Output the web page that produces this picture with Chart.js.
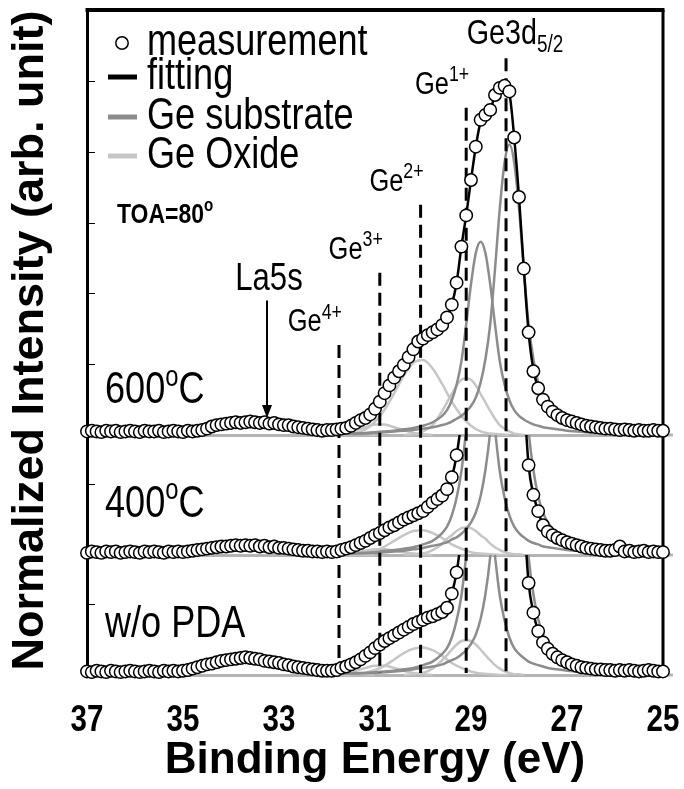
<!DOCTYPE html>
<html lang="en">
<head>
<meta charset="UTF-8">
<title>Ge3d XPS spectra</title>
<script src="https://cdn.jsdelivr.net/npm/chart.js@4.4.0/dist/chart.umd.min.js"></script>
<style>
  html, body { margin: 0; padding: 0; background: #fff; }
  #wrap { position: relative; width: 684px; height: 789px; }
</style>
</head>
<body>
<div id="wrap"><canvas id="xps" width="684" height="789"></canvas></div>
<script>
// ---- measured spectra, 0.1 eV steps ----
const energy = [
  37.0, 36.9, 36.8, 36.7, 36.6, 36.5, 36.4, 36.3, 36.2, 36.1,
  36.0, 35.9, 35.8, 35.7, 35.6, 35.5, 35.4, 35.3, 35.2, 35.1,
  35.0, 34.9, 34.8, 34.7, 34.6, 34.5, 34.4, 34.3, 34.2, 34.1,
  34.0, 33.9, 33.8, 33.7, 33.6, 33.5, 33.4, 33.3, 33.2, 33.1,
  33.0, 32.9, 32.8, 32.7, 32.6, 32.5, 32.4, 32.3, 32.2, 32.1,
  32.0, 31.9, 31.8, 31.7, 31.6, 31.5, 31.4, 31.3, 31.2, 31.1,
  31.0, 30.9, 30.8, 30.7, 30.6, 30.5, 30.4, 30.3, 30.2, 30.1,
  30.0, 29.9, 29.8, 29.7, 29.6, 29.5, 29.4, 29.3, 29.2, 29.1,
  29.0, 28.9, 28.8, 28.7, 28.6, 28.5, 28.4, 28.3, 28.2, 28.1,
  28.0, 27.9, 27.8, 27.7, 27.6, 27.5, 27.4, 27.3, 27.2, 27.1,
  27.0, 26.9, 26.8, 26.7, 26.6, 26.5, 26.4, 26.3, 26.2, 26.1,
  26.0, 25.9, 25.8, 25.7, 25.6, 25.5, 25.4, 25.3, 25.2, 25.1,
  25.0
];
const meas600 = [
  0.05, 0.06, 0.05, 0.04, 0.06, 0.05, 0.06, 0.04, 0.05, 0.06,
  0.05, 0.04, 0.06, 0.05, 0.05, 0.06, 0.04, 0.05, 0.06, 0.05,
  0.04, 0.06, 0.05, 0.06, 0.07, 0.09, 0.12, 0.14, 0.15, 0.16,
  0.17, 0.18, 0.17, 0.18, 0.19, 0.18, 0.17, 0.18, 0.16, 0.17,
  0.15, 0.14, 0.14, 0.12, 0.11, 0.10, 0.09, 0.08, 0.07, 0.06,
  0.07, 0.07, 0.08, 0.09, 0.10, 0.13, 0.17, 0.21, 0.24, 0.29,
  0.37, 0.47, 0.59, 0.70, 0.81, 0.90, 0.99, 1.10, 1.21, 1.32,
  1.36, 1.41, 1.45, 1.49, 1.55, 1.66, 1.84, 2.15, 2.66, 3.10,
  3.60, 4.07, 4.45, 4.52, 4.59, 4.80, 4.90, 4.93, 4.85, 4.20,
  3.36, 2.35, 1.45, 0.90, 0.66, 0.50, 0.40, 0.33, 0.28, 0.24,
  0.21, 0.19, 0.17, 0.15, 0.13, 0.12, 0.11, 0.10, 0.09, 0.09,
  0.08, 0.07, 0.08, 0.07, 0.06, 0.07, 0.06, 0.06, 0.07, 0.06,
  0.06
];
const meas400 = [
  0.03, 0.05, 0.04, 0.03, 0.05, 0.04, 0.05, 0.03, 0.04, 0.05,
  0.04, 0.03, 0.05, 0.04, 0.05, 0.04, 0.03, 0.05, 0.04, 0.05,
  0.04, 0.05, 0.06, 0.07, 0.08, 0.09, 0.10, 0.11, 0.12, 0.12,
  0.13, 0.14, 0.13, 0.14, 0.13, 0.14, 0.12, 0.13, 0.11, 0.12,
  0.10, 0.10, 0.09, 0.08, 0.07, 0.06, 0.06, 0.05, 0.05, 0.04,
  0.05, 0.04, 0.05, 0.07, 0.09, 0.11, 0.14, 0.17, 0.20, 0.24,
  0.28, 0.31, 0.35, 0.39, 0.42, 0.46, 0.50, 0.53, 0.56, 0.59,
  0.62, 0.68, 0.74, 0.79, 0.84, 0.93, 1.10, 1.41, 1.90, 2.60,
  3.40, 4.00, 4.40, 4.70, 4.90, 5.10, 5.30, 5.40, 5.20, 4.60,
  3.60, 2.30, 1.27, 0.85, 0.62, 0.42, 0.33, 0.28, 0.24, 0.21,
  0.18, 0.16, 0.14, 0.12, 0.10, 0.09, 0.08, 0.07, 0.06, 0.06,
  0.07, 0.12, 0.05, 0.06, 0.04, 0.05, 0.06, 0.04, 0.05, 0.04,
  0.04
];
const measNoPDA = [
  0.05, 0.04, 0.06, 0.05, 0.04, 0.06, 0.05, 0.04, 0.05, 0.06,
  0.05, 0.04, 0.05, 0.06, 0.05, 0.04, 0.06, 0.05, 0.06, 0.05,
  0.06, 0.07, 0.09, 0.11, 0.13, 0.15, 0.16, 0.18, 0.20, 0.21,
  0.22, 0.23, 0.24, 0.25, 0.24, 0.23, 0.22, 0.20, 0.19, 0.18,
  0.17, 0.15, 0.14, 0.12, 0.11, 0.10, 0.09, 0.08, 0.07, 0.06,
  0.06, 0.06, 0.07, 0.10, 0.12, 0.15, 0.18, 0.22, 0.27, 0.32,
  0.38, 0.43, 0.48, 0.52, 0.56, 0.60, 0.64, 0.68, 0.72, 0.75,
  0.78, 0.81, 0.83, 0.86, 0.89, 0.95, 1.15, 1.45, 1.95, 2.60,
  3.30, 3.90, 4.30, 4.60, 4.85, 5.05, 5.25, 5.35, 5.15, 4.50,
  3.50, 2.30, 1.30, 0.88, 0.62, 0.46, 0.37, 0.30, 0.25, 0.21,
  0.18, 0.15, 0.13, 0.11, 0.10, 0.09, 0.08, 0.08, 0.07, 0.07,
  0.06, 0.07, 0.06, 0.07, 0.06, 0.05, 0.06, 0.07, 0.06, 0.05,
  0.05
];

// ---- fitted envelope and Ge substrate doublet ----
const fitE = [
  32.4, 32.2, 32.0, 31.8, 31.6, 31.4, 31.2, 31.0, 30.8, 30.6,
  30.4, 30.2, 30.0, 29.8, 29.6, 29.5, 29.4, 29.3, 29.2, 29.1,
  29.0, 28.9, 28.8, 28.7, 28.6, 28.5, 28.4, 28.3, 28.2, 28.1,
  28.0, 27.9, 27.8, 27.7, 27.6, 27.5, 27.4, 27.2, 27.0, 26.8,
  26.6, 26.4
];
const fit600 = [0.09, 0.07, 0.07, 0.08, 0.10, 0.17, 0.24, 0.37, 0.59, 0.81, 0.99, 1.21, 1.36, 1.45, 1.55, 1.66, 1.84, 2.15, 2.66, 3.10, 3.60, 4.07, 4.42, 4.52, 4.60, 4.78, 4.88, 4.92, 4.82, 4.20, 3.36, 2.35, 1.45, 0.92, 0.66, 0.50, 0.40, 0.28, 0.21, 0.17, 0.13, 0.11];
const fit400 = [0.06, 0.05, 0.05, 0.05, 0.09, 0.14, 0.20, 0.28, 0.35, 0.42, 0.50, 0.56, 0.62, 0.74, 0.84, 0.93, 1.10, 1.41, 1.90, 2.60, 3.40, 4.00, 4.40, 4.70, 4.90, 5.10, 5.30, 5.40, 5.20, 4.60, 3.60, 2.30, 1.27, 0.85, 0.62, 0.42, 0.33, 0.24, 0.18, 0.14, 0.10, 0.08];
const fitNoPDA = [0.09, 0.07, 0.06, 0.07, 0.12, 0.18, 0.27, 0.38, 0.48, 0.56, 0.64, 0.72, 0.78, 0.83, 0.89, 0.95, 1.15, 1.45, 1.95, 2.60, 3.30, 3.90, 4.30, 4.60, 4.85, 5.05, 5.25, 5.35, 5.15, 4.50, 3.50, 2.30, 1.30, 0.88, 0.62, 0.46, 0.37, 0.25, 0.18, 0.13, 0.10, 0.08];

const sub52_600 = [0.01, 0.01, 0.01, 0.01, 0.02, 0.02, 0.02, 0.03, 0.04, 0.05, 0.06, 0.07, 0.09, 0.11, 0.14, 0.16, 0.19, 0.23, 0.27, 0.33, 0.41, 0.53, 0.74, 1.07, 1.56, 2.34, 3.20, 3.85, 4.10, 3.85, 3.20, 2.34, 1.56, 1.07, 0.74, 0.53, 0.41, 0.27, 0.19, 0.14, 0.11, 0.09];
const sub52_400 = [0.01, 0.01, 0.01, 0.01, 0.02, 0.02, 0.03, 0.03, 0.04, 0.05, 0.06, 0.08, 0.10, 0.13, 0.16, 0.18, 0.22, 0.25, 0.30, 0.37, 0.46, 0.60, 0.83, 1.20, 1.75, 2.62, 3.59, 4.32, 4.60, 4.32, 3.59, 2.62, 1.75, 1.20, 0.83, 0.60, 0.46, 0.30, 0.22, 0.16, 0.13, 0.10];
const sub52_NoPDA = [0.01, 0.01, 0.01, 0.01, 0.02, 0.02, 0.03, 0.03, 0.04, 0.05, 0.06, 0.08, 0.10, 0.12, 0.15, 0.18, 0.21, 0.24, 0.29, 0.35, 0.44, 0.57, 0.79, 1.14, 1.67, 2.51, 3.43, 4.14, 4.40, 4.14, 3.43, 2.51, 1.67, 1.14, 0.79, 0.57, 0.44, 0.29, 0.21, 0.15, 0.12, 0.10];
const sub32_600 = [0.01, 0.01, 0.01, 0.02, 0.02, 0.02, 0.03, 0.04, 0.05, 0.06, 0.08, 0.10, 0.13, 0.18, 0.27, 0.35, 0.49, 0.71, 1.04, 1.56, 2.13, 2.57, 2.73, 2.57, 2.13, 1.56, 1.04, 0.71, 0.49, 0.35, 0.27, 0.22, 0.18, 0.15, 0.13, 0.11, 0.10, 0.08, 0.06, 0.05, 0.04, 0.03];
const sub32_400 = [0.01, 0.01, 0.02, 0.02, 0.02, 0.03, 0.03, 0.04, 0.06, 0.07, 0.09, 0.11, 0.15, 0.20, 0.31, 0.40, 0.56, 0.81, 1.18, 1.77, 2.42, 2.91, 3.10, 2.91, 2.42, 1.77, 1.18, 0.81, 0.56, 0.40, 0.31, 0.25, 0.20, 0.17, 0.15, 0.12, 0.11, 0.09, 0.07, 0.06, 0.04, 0.03];
const sub32_NoPDA = [0.01, 0.01, 0.01, 0.02, 0.02, 0.03, 0.03, 0.04, 0.05, 0.06, 0.08, 0.10, 0.14, 0.19, 0.30, 0.38, 0.53, 0.77, 1.12, 1.68, 2.30, 2.77, 2.95, 2.77, 2.30, 1.68, 1.12, 0.77, 0.53, 0.38, 0.30, 0.24, 0.19, 0.16, 0.14, 0.12, 0.10, 0.08, 0.06, 0.05, 0.04, 0.03];

// ---- Ge oxide components (Ge1+ .. Ge4+) ----
const ox1E = [30.4, 30.2, 30.0, 29.8, 29.6, 29.5, 29.4, 29.3, 29.2, 29.1, 29.0, 28.9, 28.8, 28.7, 28.6, 28.5, 28.4, 28.3, 28.2, 28.1, 28.0, 27.9];
const ox1_600 = [0, 0.01, 0.05, 0.14, 0.34, 0.46, 0.58, 0.70, 0.78, 0.80, 0.78, 0.70, 0.58, 0.46, 0.34, 0.23, 0.14, 0.09, 0.05, 0.02, 0.01, 0];
const ox1_400 = [0, 0.01, 0.02, 0.07, 0.16, 0.23, 0.28, 0.34, 0.38, 0.39, 0.38, 0.34, 0.28, 0.23, 0.16, 0.11, 0.07, 0.04, 0.02, 0.01, 0.01, 0];
const ox1_NoPDA = [0, 0.01, 0.03, 0.09, 0.21, 0.28, 0.36, 0.43, 0.48, 0.49, 0.48, 0.43, 0.36, 0.28, 0.21, 0.14, 0.09, 0.05, 0.03, 0.01, 0.01, 0];

const ox2E = [32.0, 31.8, 31.6, 31.4, 31.2, 31.0, 30.8, 30.6, 30.4, 30.2, 30.0, 29.8, 29.6, 29.4, 29.2, 29.0, 28.8, 28.6, 28.4, 28.2];
const ox2_600 = [0, 0, 0.01, 0.03, 0.08, 0.19, 0.36, 0.59, 0.84, 1.02, 1.06, 0.94, 0.72, 0.47, 0.27, 0.13, 0.05, 0.02, 0.01, 0];
const ox2_400 = [0, 0, 0, 0.01, 0.03, 0.06, 0.12, 0.20, 0.28, 0.34, 0.35, 0.31, 0.24, 0.15, 0.09, 0.04, 0.02, 0.01, 0, 0];
const ox2_NoPDA = [0, 0, 0, 0.01, 0.03, 0.07, 0.13, 0.22, 0.31, 0.37, 0.39, 0.35, 0.27, 0.17, 0.10, 0.05, 0.02, 0.01, 0, 0];

const ox3E = [32.0, 31.8, 31.6, 31.4, 31.2, 31.0, 30.8, 30.6, 30.4, 30.2, 30.0, 29.8];
const ox3_600 = [0, 0.01, 0.03, 0.07, 0.11, 0.15, 0.15, 0.11, 0.07, 0.03, 0.01, 0];
const ox3_400 = [0, 0.01, 0.02, 0.04, 0.06, 0.08, 0.08, 0.06, 0.04, 0.02, 0.01, 0];
const ox3_NoPDA = [0, 0.01, 0.03, 0.06, 0.10, 0.13, 0.13, 0.10, 0.06, 0.03, 0.01, 0];

const ox4E = [32.4, 32.2, 32.0, 31.8, 31.6, 31.4, 31.2, 31.0];
const ox4_600 = [0, 0.02, 0.04, 0.06, 0.05, 0.03, 0.01, 0];
const ox4_400 = [0, 0.01, 0.02, 0.03, 0.02, 0.01, 0, 0];
const ox4_NoPDA = [0, 0.02, 0.03, 0.05, 0.04, 0.02, 0.01, 0];

// ---- chemical-state markers (dashed lines), tops in 600 C panel units ----
const peakE = [31.75, 30.9, 30.05, 29.1, 28.27];
const peakTop = [1.27, 2.29, 3.25, 4.62, 5.32];
const peakSup = ['4+', '3+', '2+', '1+'];

const xTicks = [37, 35, 33, 31, 29, 27, 25];

const FONT = 'Arial, "Liberation Sans", Helvetica, sans-serif';
const NARROW = '"Liberation Sans Narrow", "Arial Narrow"';
const SUB_COLOR = '#8c8c8c';
const OX_COLOR = '#c6c6c6';

// narrow face if installed, otherwise squeeze the regular one
let narrowScale = null;
function narrowInfo(ctx) {
  if (narrowScale === null) {
    ctx.save();
    ctx.font = '40px ' + NARROW + ', monospace';
    const a = ctx.measureText('measurement').width;
    ctx.font = '40px monospace';
    const b = ctx.measureText('measurement').width;
    ctx.restore();
    narrowScale = Math.abs(a - b) > 0.5 ? 1 : 0.82;
  }
  return narrowScale;
}
function font(size, bold, narrow) {
  const fam = narrow && narrowScale === 1 ? NARROW + ', ' + FONT : FONT;
  return (bold ? 'bold ' : '') + size + 'px ' + fam;
}
function pts(xs, ys) { return xs.map((x, i) => ({ x: x, y: ys[i] })); }

// parts: [{t, v: 'sup'|'sub'}], y is the baseline
function drawRich(ctx, parts, x, y, size, opt) {
  opt = opt || {};
  const sx = opt.narrow ? narrowInfo(ctx) : 1;
  const small = opt.small || 0.66;
  let w = 0;
  parts.forEach(p => {
    ctx.font = font(p.v ? size * small : size, opt.bold, opt.narrow);
    w += ctx.measureText(p.t).width;
  });
  const x0 = opt.align === 'right' ? x - w * sx : opt.align === 'center' ? x - w * sx / 2 : x;
  ctx.save();
  ctx.translate(x0, y);
  ctx.scale(sx, 1);
  ctx.textAlign = 'left';
  ctx.textBaseline = 'alphabetic';
  let cx = 0;
  parts.forEach(p => {
    const s = p.v ? size * small : size;
    const dy = p.v === 'sup' ? -size * 0.4 : p.v === 'sub' ? size * 0.22 : 0;
    ctx.font = font(s, opt.bold, opt.narrow);
    ctx.fillText(p.t, cx, dy);
    cx += ctx.measureText(p.t).width;
  });
  ctx.restore();
}

const panels = [
  { axis: 'y600', max: 6, weight: 425, meas: meas600, fit: fit600, sub: [sub52_600, sub32_600],
    ox: [[ox1E, ox1_600], [ox2E, ox2_600], [ox3E, ox3_600], [ox4E, ox4_600]] },
  { axis: 'y400', max: 1.695, weight: 120, meas: meas400, fit: fit400, sub: [sub52_400, sub32_400],
    ox: [[ox1E, ox1_400], [ox2E, ox2_400], [ox3E, ox3_400], [ox4E, ox4_400]] },
  { axis: 'yNoPDA', max: 1.695, weight: 120, meas: measNoPDA, fit: fitNoPDA, sub: [sub52_NoPDA, sub32_NoPDA],
    ox: [[ox1E, ox1_NoPDA], [ox2E, ox2_NoPDA], [ox3E, ox3_NoPDA], [ox4E, ox4_NoPDA]] }
];

const datasets = [];
panels.forEach(p => {
  datasets.push({ kind: 'meas', yAxisID: p.axis, data: pts(energy, p.meas), showLine: false,
    pointRadius: 6.2, pointBorderWidth: 1.5, pointBorderColor: '#000', pointBackgroundColor: '#fff',
    order: 0, clip: false });
  datasets.push({ kind: 'fit', yAxisID: p.axis, data: pts(fitE, p.fit), borderColor: '#000',
    borderWidth: 2.5, pointRadius: 0, cubicInterpolationMode: 'monotone', order: 1, clip: false });
  p.sub.forEach(v => datasets.push({ kind: 'sub', yAxisID: p.axis, data: pts(fitE, v),
    borderColor: SUB_COLOR, borderWidth: 2.5, pointRadius: 0, cubicInterpolationMode: 'monotone',
    order: 2, clip: false }));
  p.ox.forEach(([e, v]) => datasets.push({ kind: 'ox', yAxisID: p.axis, data: pts(e, v),
    borderColor: OX_COLOR, borderWidth: 2.5, pointRadius: 0, cubicInterpolationMode: 'monotone',
    order: 3, clip: false }));
});

function yAxis(p) {
  return {
    type: 'linear', position: 'left', stack: 'panels', stackWeight: p.weight,
    min: 0, max: p.max,
    ticks: { display: false, stepSize: 1 },
    grid: {
      drawTicks: false,
      color: c => (c.tick && c.tick.value === 0) ? '#b4b4b4' : 'rgba(0,0,0,0)',
      lineWidth: c => (c.tick && c.tick.value === 0) ? 3 : 1
    },
    border: { display: true, color: '#000', width: 3 },
    afterFit: s => { s.width = 0; }
  };
}

let dashesDone = false;

// each spectrum is clipped to its own panel; dashed markers go under the circles
const panelClip = {
  id: 'panelClip',
  beforeDatasetDraw(chart, args) {
    const ctx = chart.ctx;
    const a = chart.chartArea;
    const ds = chart.data.datasets[args.index];
    if (ds.kind === 'meas' && !dashesDone) {
      dashesDone = true;
      const xs = chart.scales.x, yt = chart.scales.y600;
      ctx.save();
      ctx.strokeStyle = '#000';
      ctx.lineWidth = 3;
      ctx.setLineDash([13, 7]);
      peakE.forEach((e, i) => {
        const x = xs.getPixelForValue(e);
        ctx.beginPath();
        ctx.moveTo(x, yt.getPixelForValue(peakTop[i]));
        ctx.lineTo(x, a.bottom - 2);
        ctx.stroke();
      });
      ctx.restore();
    }
    const ys = chart.scales[args.meta.yAxisID];
    ctx.save();
    ctx.beginPath();
    ctx.rect(a.left - 10, ys.top, a.right - a.left + 20, ys.bottom - ys.top + 8);
    ctx.clip();
  },
  afterDatasetDraw(chart) { chart.ctx.restore(); }
};

const frame = {
  id: 'frame',
  beforeDatasetsDraw(chart) {
    dashesDone = false;
    const { ctx, chartArea: a } = chart;
    ctx.save();
    // panel baselines run a little past the right border
    ctx.strokeStyle = '#b4b4b4';
    ctx.lineWidth = 3;
    panels.forEach(p => {
      const y = chart.scales[p.axis].getPixelForValue(0);
      ctx.beginPath();
      ctx.moveTo(a.right, y);
      ctx.lineTo(a.right + 10, y);
      ctx.stroke();
    });
    ctx.strokeStyle = '#000';
    ctx.lineWidth = 4;
    ctx.beginPath();
    ctx.moveTo(a.left - 1.5, a.top);
    ctx.lineTo(a.right + 1.5, a.top);
    ctx.stroke();
    ctx.lineWidth = 3;
    ctx.beginPath();
    ctx.moveTo(a.right, a.top);
    ctx.lineTo(a.right, a.bottom);
    ctx.stroke();
    ctx.lineWidth = 1;
    panels.forEach(p => {
      const s = chart.scales[p.axis];
      s.ticks.forEach(t => {
        if (t.value <= 0 || t.value >= p.max) return;
        const y = Math.round(s.getPixelForValue(t.value)) + 0.5;
        ctx.beginPath();
        ctx.moveTo(a.left, y);
        ctx.lineTo(a.left + 8, y);
        ctx.stroke();
      });
    });
    ctx.restore();
  }
};

const labels = {
  id: 'labels',
  afterDatasetsDraw(chart) {
    const { ctx, chartArea: a } = chart;
    const xs = chart.scales.x;
    const y6 = chart.scales.y600, y4 = chart.scales.y400, y0 = chart.scales.yNoPDA;
    narrowInfo(ctx);
    ctx.save();
    ctx.fillStyle = '#000';

    // x tick labels
    xs.ticks.forEach(t => {
      drawRich(ctx, [{ t: String(t.value) }], xs.getPixelForValue(t.value), a.bottom + 56, 36,
        { bold: true, narrow: true, align: 'center' });
    });

    // legend
    const rows = [a.top + 33, a.top + 67, a.top + 107, a.top + 146];
    ctx.lineWidth = 1.5;
    ctx.strokeStyle = '#000';
    ctx.fillStyle = '#fff';
    ctx.beginPath();
    ctx.arc(a.left + 35, rows[0], 6.2, 0, Math.PI * 2);
    ctx.fill();
    ctx.stroke();
    [['#000', rows[1]], [SUB_COLOR, rows[2]], [OX_COLOR, rows[3]]].forEach(([c, y]) => {
      ctx.strokeStyle = c;
      ctx.lineWidth = 5;
      ctx.beginPath();
      ctx.moveTo(a.left + 21, y);
      ctx.lineTo(a.left + 50, y);
      ctx.stroke();
    });
    ctx.fillStyle = '#000';
    ['measurement', 'fitting', 'Ge substrate', 'Ge Oxide'].forEach((t, i) =>
      drawRich(ctx, [{ t: t }], a.left + 60, rows[i] + 12, 44, { narrow: true }));

    // chemical-state labels above the dashed lines
    peakSup.forEach((s, i) => {
      const x = xs.getPixelForValue(peakE[i]);
      drawRich(ctx, [{ t: 'Ge' }, { t: s, v: 'sup' }], x + 3, y6.getPixelForValue(peakTop[i]) - 14, 31,
        { narrow: true, align: 'right', small: 0.7 });
    });
    drawRich(ctx, [{ t: 'Ge3d' }, { t: '5/2', v: 'sub' }],
      xs.getPixelForValue(peakE[4]) + 9, y6.getPixelForValue(peakTop[4]) - 14, 35, { narrow: true, align: 'center' });

    // La5s arrow
    const ax = xs.getPixelForValue(33.25);
    const aTop = y6.getPixelForValue(1.9), aBot = y6.getPixelForValue(0.24);
    ctx.strokeStyle = '#000';
    ctx.lineWidth = 2;
    ctx.beginPath();
    ctx.moveTo(ax, aTop);
    ctx.lineTo(ax, aBot - 10);
    ctx.stroke();
    ctx.beginPath();
    ctx.moveTo(ax, aBot);
    ctx.lineTo(ax - 5, aBot - 13);
    ctx.lineTo(ax + 5, aBot - 13);
    ctx.closePath();
    ctx.fill();
    drawRich(ctx, [{ t: 'La5s' }], ax + 2, aTop - 10, 38, { narrow: true, align: 'center' });

    // take-off angle
    drawRich(ctx, [{ t: 'TOA=80' }, { t: 'o', v: 'sup' }], a.left + 30, y6.getPixelForValue(3.0), 28,
      { bold: true, narrow: true });

    // panel names
    drawRich(ctx, [{ t: '600' }, { t: 'o', v: 'sup' }, { t: 'C' }], a.left + 18, y6.getPixelForValue(0.45), 44, { narrow: true });
    drawRich(ctx, [{ t: '400' }, { t: 'o', v: 'sup' }, { t: 'C' }], a.left + 18, y4.getPixelForValue(0.54), 44, { narrow: true });
    drawRich(ctx, [{ t: 'w/o PDA' }], a.left + 18, y0.getPixelForValue(0.54), 44, { narrow: true });

    // y-axis title spanning all panels
    ctx.translate(31, (a.top + a.bottom) / 2 - 2);
    ctx.rotate(-Math.PI / 2);
    ctx.font = font(45, true, false);
    ctx.textAlign = 'center';
    ctx.textBaseline = 'middle';
    ctx.fillText('Normalized Intensity (arb. unit)', 0, 0);
    ctx.restore();
  }
};

// top panel first in the stack
const scales = {
  x: {
    type: 'linear', position: 'bottom', min: 25, max: 37, reverse: true,
    afterBuildTicks: s => { s.ticks = xTicks.map(v => ({ value: v })); },
    afterFit: s => { s.height = 114; s.paddingLeft = 0; s.paddingRight = 0; },
    grid: { display: false, drawTicks: false },
    border: { display: false },
    ticks: { display: false },
    title: { display: true, text: 'Binding Energy (eV)', color: '#000',
      font: { family: FONT, size: 44, weight: 'bold' }, padding: { top: 0, bottom: 2 } }
  }
};
panels.slice().reverse().forEach(p => { scales[p.axis] = yAxis(p); });

Chart.defaults.font.family = FONT;
Chart.defaults.color = '#000';

new Chart(document.getElementById('xps').getContext('2d'), {
  type: 'line',
  data: { datasets: datasets },
  options: {
    responsive: false,
    animation: false,
    devicePixelRatio: 1,
    layout: { padding: { left: 87, right: 21, top: 10, bottom: 0 } },
    plugins: { legend: { display: false }, tooltip: { enabled: false } },
    scales: scales
  },
  plugins: [frame, panelClip, labels]
});
</script>
</body>
</html>
